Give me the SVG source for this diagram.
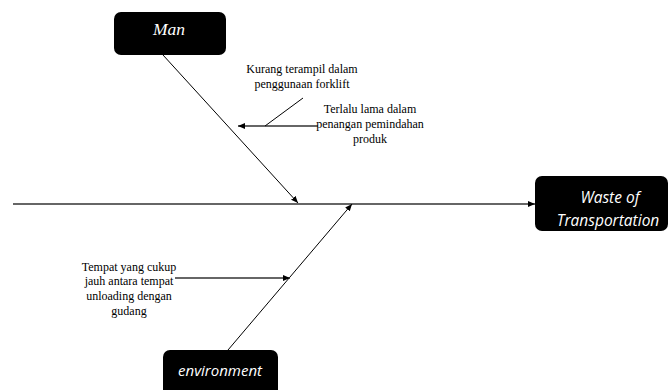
<svg xmlns="http://www.w3.org/2000/svg" width="670" height="390" viewBox="0 0 670 390">
<style>
.box{fill:#000}
.lbl{fill:#fff;font-style:italic;text-anchor:middle}
.ser{font-family:"Liberation Serif",serif}
.san{font-family:"Open Sans","Liberation Sans",sans-serif}
.note{font-family:"Liberation Serif",serif;font-size:12px;fill:#000;text-anchor:middle}
.ln{stroke:#000;stroke-width:1;fill:none}
.sp{stroke:#333;stroke-width:1.5;fill:none}
</style>
<defs>
<marker id="ah" markerWidth="8" markerHeight="8" refX="7" refY="4" orient="auto" markerUnits="userSpaceOnUse">
<path d="M0,1 L7,4 L0,7 Z" fill="#000"/>
</marker>
<clipPath id="wc"><rect x="535" y="176" width="133" height="55" rx="7"/></clipPath>
</defs>
<g id="connectors">
<line class="sp" x1="13" y1="204" x2="535" y2="204" marker-end="url(#ah)"/>
<line class="ln" x1="163" y1="55" x2="298" y2="203" marker-end="url(#ah)"/>
<line class="ln" x1="228" y1="350" x2="352" y2="204" marker-end="url(#ah)"/>
<line class="sp" x1="318" y1="126" x2="238" y2="126" marker-end="url(#ah)"/>
<line class="ln" x1="303" y1="98" x2="265" y2="126"/>
<line class="sp" x1="175" y1="278" x2="290" y2="278" marker-end="url(#ah)"/>
</g>
<g id="man">
<rect class="box" x="114" y="12" width="112" height="43" rx="7"/>
<text class="lbl ser" x="169" y="35" font-size="17.5">Man</text>
</g>
<g id="waste">
<rect class="box" x="535" y="176" width="133" height="55" rx="7"/>
<g clip-path="url(#wc)">
<text class="lbl san" x="610" y="203" font-size="15.5">Waste of</text>
<text class="lbl san" x="608" y="226" font-size="15.5">Transportation</text>
</g>
</g>
<g id="environment">
<rect class="box" x="163" y="350" width="115" height="50" rx="7"/>
<text class="lbl san" x="220" y="376" font-size="15">environment</text>
</g>
<g id="notes">
<text class="note" x="302" y="73">Kurang terampil dalam</text>
<text class="note" x="302" y="88">penggunaan forklift</text>
<text class="note" x="370" y="113">Terlalu lama dalam</text>
<text class="note" x="370" y="128">penangan pemindahan</text>
<text class="note" x="370" y="143">produk</text>
<text class="note" x="129" y="271">Tempat yang cukup</text>
<text class="note" x="129" y="285">jauh antara tempat</text>
<text class="note" x="129" y="300">unloading dengan</text>
<text class="note" x="129" y="315">gudang</text>
</g>
</svg>
